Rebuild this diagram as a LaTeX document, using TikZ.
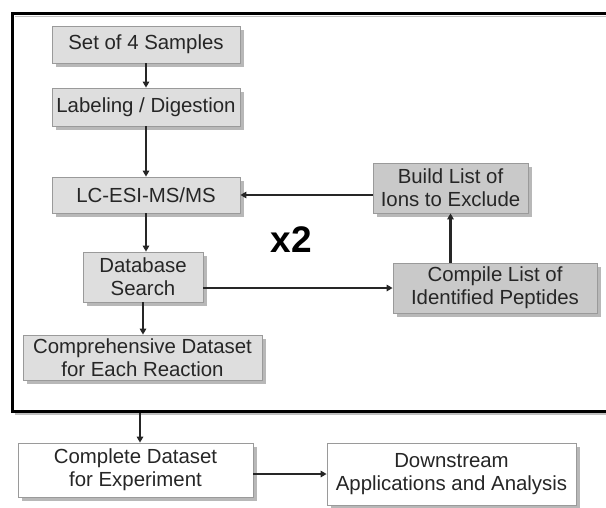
\documentclass[tikz,border=0pt]{standalone}
\usepackage{fontspec}
\setmainfont{Liberation Sans}
\usetikzlibrary{shadows,arrows.meta}
\definecolor{boxA}{HTML}{DEDEDE}
\definecolor{boxB}{HTML}{C9C9C9}
\definecolor{edgeC}{HTML}{9A9A9A}
\definecolor{txtC}{HTML}{262626}
\begin{document}
\begin{tikzpicture}[x=1pt,y=-1pt,
  every node/.style={font=\fontsize{20.4}{23}\selectfont, text=txtC, align=center, inner sep=0pt},
  procbox/.style={draw=edgeC, line width=0.8pt, fill=#1,
    drop shadow={shadow xshift=4pt, shadow yshift=-4pt, fill=black!28, opacity=1}},
  procbox/.default=boxA,
  arr/.style={draw=black!85, line width=2.2pt, -{Triangle[length=6pt,width=6.5pt]}}]
\useasboundingbox (0,0) rectangle (606,507);
% frame
\draw[black!25, line width=1.5pt] (606,16.5) -- (15,16.5);
\draw[black!25, line width=1.5pt] (15,414) -- (606,414);
\draw[line width=3pt] (606,13.5) -- (12.5,13.5) -- (12.5,411) -- (606,411);
% nodes
\node[procbox, minimum width=188pt, minimum height=37pt] (set) at (146,44.5) {Set of 4 Samples};
\node[procbox, minimum width=188pt, minimum height=38pt] (lab) at (146,107) {Labeling / Digestion};
\node[procbox, minimum width=188pt, minimum height=36pt] (lc) at (146,195) {LC-ESI-MS/MS};
\node[procbox, minimum width=120pt, minimum height=50pt] (db) at (143,277) {Database\\Search};
\node[procbox, minimum width=239pt, minimum height=45pt] (comp) at (142.5,357.5) {Comprehensive Dataset\\for Each Reaction};
\node[procbox=boxB, minimum width=155pt, minimum height=50pt] (build) at (450.5,188) {Build List of\\Ions to Exclude};
\node[procbox=boxB, minimum width=204pt, minimum height=50pt] (compile) at (495,288) {Compile List of\\Identified Peptides};
\node[procbox=white, minimum width=235pt, minimum height=54pt] (complete) at (135.5,470) {Complete Dataset\\for Experiment};
\node[procbox=white, minimum width=249pt, minimum height=62pt] (down) at (451.5,474) {Downstream\\Applications and Analysis};
\node[font=\fontsize{37}{40}\bfseries\selectfont, text=black] (x2) at (291.5,240) {x2};
\coordinate (fb) at (140,412.5);
% connectors
\draw[arr] (set.south) -- (lab.north);
\draw[arr] (lab.south) -- (lc.north);
\draw[arr] (lc.south) -- (lc.south |- db.north);
\draw[arr] (db.south) -- (db.south |- comp.north);
\draw[arr, line width=2.8pt] (db.east |- compile.west) -- (compile.west);
\draw[arr] (build.south |- compile.north) -- (build.south);
\draw[arr] (build.west |- lc.east) -- (lc.east);
\draw[arr] (fb) -- (fb |- complete.north);
\draw[arr] (complete.east |- down.west) -- (down.west);
\end{tikzpicture}
\end{document}
